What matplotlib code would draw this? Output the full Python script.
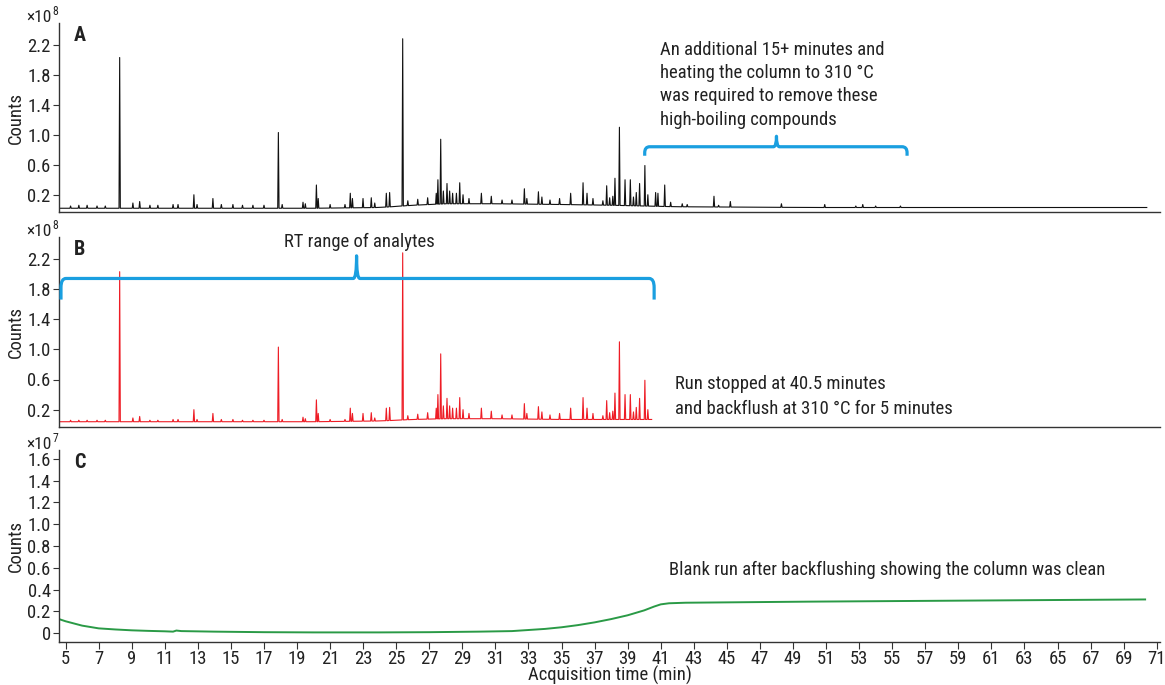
import numpy as np
import matplotlib
matplotlib.use("Agg")
import matplotlib.pyplot as plt
from matplotlib.path import Path
from matplotlib.patches import PathPatch
from matplotlib import font_manager

_names = {f.name for f in font_manager.fontManager.ttflist}
_fams = [n for n in ['Roboto Condensed', 'Liberation Sans Narrow', 'Roboto'] if n in _names]
plt.rcParams['font.family'] = _fams + ['DejaVu Sans']

# ---------------- data ----------------
# Panel A / B peaks: retention time (min), apex value (x1e8 counts)
peak_times = [5.3, 5.8, 6.3, 6.9, 7.4, 8.27, 9.07, 9.48, 10.1, 10.58, 11.5, 11.8, 12.76, 12.95,
              13.91, 14.42, 15.12, 15.7, 16.33, 17.0, 17.87, 18.1, 19.36, 19.5, 20.17, 20.28,
              21.0, 21.9, 22.22, 22.35, 22.99, 23.49, 23.7, 24.4, 24.6, 25.39, 25.7,
              26.3, 26.9, 27.42, 27.52, 27.69, 27.85, 28.07, 28.23, 28.41, 28.64, 28.84, 29.04,
              29.4, 30.15, 30.75, 31.4, 32.0, 32.75, 32.9, 33.6, 33.81, 34.3, 34.88, 35.55,
              36.3, 36.54, 36.9, 37.5, 37.73, 37.91, 38.1, 38.23, 38.5, 38.84, 39.16, 39.35,
              39.52, 39.72, 40.04, 40.22, 40.69, 40.83, 41.24, 41.6, 42.3, 42.6, 44.22, 44.5,
              45.21, 48.3, 50.92, 52.8, 53.22, 54.0, 55.5]
peak_heights = [0.05, 0.06, 0.06, 0.05, 0.05, 2.03, 0.09, 0.11, 0.06, 0.06, 0.07, 0.07, 0.20, 0.07,
                0.15, 0.07, 0.07, 0.06, 0.06, 0.06, 1.03, 0.07, 0.10, 0.08, 0.33, 0.15,
                0.07, 0.07, 0.22, 0.15, 0.15, 0.16, 0.09, 0.22, 0.23, 2.28, 0.12,
                0.14, 0.16, 0.22, 0.40, 0.94, 0.25, 0.35, 0.25, 0.22, 0.22, 0.36, 0.20,
                0.15, 0.22, 0.18, 0.13, 0.13, 0.28, 0.15, 0.24, 0.17, 0.13, 0.15, 0.22,
                0.36, 0.22, 0.15, 0.12, 0.32, 0.16, 0.18, 0.42, 1.10, 0.40, 0.40, 0.17,
                0.23, 0.35, 0.59, 0.20, 0.23, 0.22, 0.33, 0.10, 0.08, 0.07, 0.18, 0.06,
                0.11, 0.08, 0.07, 0.05, 0.07, 0.05, 0.05]
# baseline of panel A (min, x1e8)
base_a_t = [4.6, 20.0, 24.0, 26.0, 28.0, 31.0, 35.0, 38.0, 42.0, 50.0, 70.4]
base_a_v = [0.02, 0.02, 0.03, 0.06, 0.08, 0.08, 0.07, 0.06, 0.04, 0.03, 0.03]
# baseline of panel B (min, x1e8)
base_b_t = [4.6, 20.0, 24.0, 26.0, 28.0, 31.0, 35.0, 38.0, 40.45]
base_b_v = [0.04, 0.04, 0.05, 0.07, 0.08, 0.08, 0.07, 0.07, 0.07]
run_b_end = 40.45
# Panel C blank run (min, x1e7)
blank_t = [4.6, 5.0, 5.5, 6.0, 7.0, 8.0, 9.0, 10.0, 11.0, 11.5, 11.7, 12.0, 14.0, 17.0, 20.0,
           24.0, 27.0, 30.0, 32.0, 33.0, 34.0, 35.0, 36.0, 37.0, 38.0, 39.0, 40.0, 40.6,
           41.0, 41.5, 42.5, 44.0, 50.0, 55.0, 60.0, 65.0, 70.3]
blank_v = [0.13, 0.11, 0.09, 0.07, 0.045, 0.035, 0.027, 0.022, 0.018, 0.015, 0.025, 0.02, 0.015,
           0.01, 0.008, 0.008, 0.01, 0.015, 0.02, 0.03, 0.04, 0.055, 0.075, 0.10, 0.13, 0.165,
           0.21, 0.245, 0.265, 0.275, 0.28, 0.282, 0.29, 0.295, 0.30, 0.305, 0.31]
x_ticks = list(range(5, 72, 2))
ab_yticks = [0.2, 0.6, 1.0, 1.4, 1.8, 2.2]
c_yticks = [0, 0.2, 0.4, 0.6, 0.8, 1.0, 1.2, 1.4, 1.6]

# ---------------- helpers ----------------
def chromatogram(times, apex, bt, bv, t_end):
    w = 0.04
    xs, ys = [bt[0]], [bv[0]]
    for t, h in sorted(zip(times, apex)):
        if t > t_end:
            continue
        b = float(np.interp(t, bt, bv))
        xs += [t - w, t, t + w]
        ys += [b, max(h, b + 0.02), b]
    xs.append(t_end)
    ys.append(float(np.interp(t_end, bt, bv)))
    return xs, ys


def bracket(ax, x0, x1, xc, y_end, y_bar, y_tip, dx, dxc, dy, color):
    verts = [(x0, y_end), (x0, y_bar - dy), (x0, y_bar), (x0 + dx, y_bar),
             (xc - dxc, y_bar), (xc, y_bar), (xc, y_tip),
             (xc, y_bar), (xc + dxc, y_bar),
             (x1 - dx, y_bar), (x1, y_bar), (x1, y_bar - dy), (x1, y_end)]
    codes = [Path.MOVETO, Path.LINETO, Path.CURVE3, Path.CURVE3,
             Path.LINETO, Path.CURVE3, Path.CURVE3,
             Path.CURVE3, Path.CURVE3,
             Path.LINETO, Path.CURVE3, Path.CURVE3, Path.LINETO]
    ax.add_patch(PathPatch(Path(verts, codes), fill=False, edgecolor=color,
                           lw=2.3, capstyle='butt', joinstyle='round', zorder=5))


W, H = 1165, 685
fig = plt.figure(figsize=(W / 100, H / 100), dpi=100)
L, R = 59 / W, 1160 / W
axA = fig.add_axes([L, 1 - 212 / H, R - L, (212 - 23) / H])
axB = fig.add_axes([L, 1 - 427 / H, R - L, (427 - 237) / H])
axC = fig.add_axes([L, 1 - 642 / H, R - L, (642 - 450) / H])

spine_col = '#333333'
txt_col = '#222222'
fs = 13.4
for ax in (axA, axB, axC):
    ax.set_xlim(4.6, 71.2)
    for s in ('top', 'right'):
        ax.spines[s].set_visible(False)
    for s in ('left', 'bottom'):
        ax.spines[s].set_color(spine_col)
        ax.spines[s].set_linewidth(1.0)
    ax.tick_params(axis='y', direction='out', length=4, width=0.8, color=spine_col,
                   labelsize=fs, pad=2, labelcolor=txt_col)
    ax.set_ylabel('Counts', fontsize=fs, color=txt_col)
    ax.yaxis.set_label_coords(-0.031, 0.5)

for ax in (axA, axB):
    ax.set_xticks([])
    ax.set_ylim(-0.03, 2.49)
    ax.set_yticks(ab_yticks)
    ax.set_yticklabels([f'{v:.1f}' for v in ab_yticks])

axC.set_ylim(-0.08, 1.68)
axC.set_yticks(c_yticks)
axC.set_yticklabels(['0'] + [f'{v:.1f}' for v in c_yticks[1:]])
axC.set_xticks(x_ticks)
axC.set_xticklabels([str(v) for v in x_ticks])
axC.tick_params(axis='x', direction='out', length=5, width=0.8, color=spine_col,
                labelsize=fs, pad=0.5, labelcolor=txt_col)
axC.set_xlabel('Acquisition time (min)', fontsize=fs, color=txt_col)
axC.xaxis.set_label_coords(0.5, -(666 - 642) / 192)

# traces
xa, ya = chromatogram(peak_times, peak_heights, base_a_t, base_a_v, 70.4)
axA.plot(xa, ya, color='#111111', lw=0.8)
xb, yb = chromatogram(peak_times, peak_heights, base_b_t, base_b_v, run_b_end)
axB.plot(xb, yb, color='#ee1c25', lw=0.8)
axC.plot(blank_t, blank_v, color='#2a9a46', lw=1.4)

# panel letters
for ax, lab in ((axA, 'A'), (axB, 'B'), (axC, 'C')):
    ax.text(0.0136, 0.935, lab, transform=ax.transAxes, fontsize=14.5, fontweight='bold',
            ha='left', va='center', color=txt_col)

# offset multipliers
for ypx, exp in ((22, '8'), (236, '8'), (449, '7')):
    t = fig.text(26 / W, 1 - ypx / H, '×10', fontsize=12.5, ha='left', va='baseline', color=txt_col)
    fig.add_artist(plt.Annotation(exp, xy=(1.0, 0.45), xycoords=t, fontsize=8.5,
                                  ha='left', va='bottom', color=txt_col,
                                  xytext=(0.5, 0), textcoords='offset points'))

blue = '#1a9fe0'
bracket(axA, 40.03, 55.9, 48.0, 0.72, 0.84, 0.98, 0.3, 0.18, 0.08, blue)
bracket(axB, 4.72, 40.6, 22.6, 1.66, 1.94, 2.24, 0.3, 0.2, 0.12, blue)

a_lines = ['An additional 15+ minutes and', 'heating the column to 310 °C',
           'was required to remove these', 'high-boiling compounds']
for i, s in enumerate(a_lines):
    axA.text(40.93, 2.133 - i * 0.311, s, fontsize=fs, ha='left', va='center', color=txt_col)
axB.text(22.79, 2.43, 'RT range of analytes', fontsize=fs, ha='center', va='center', color=txt_col)
axB.text(41.84, 0.545, 'Run stopped at 40.5 minutes', fontsize=fs, ha='left', va='center', color=txt_col)
axB.text(41.84, 0.213, 'and backflush at 310 °C for 5 minutes', fontsize=fs, ha='left', va='center', color=txt_col)
axC.text(41.48, 0.58, 'Blank run after backflushing showing the column was clean',
         fontsize=fs, ha='left', va='center', color=txt_col)

fig.savefig('out.png', dpi=100)
